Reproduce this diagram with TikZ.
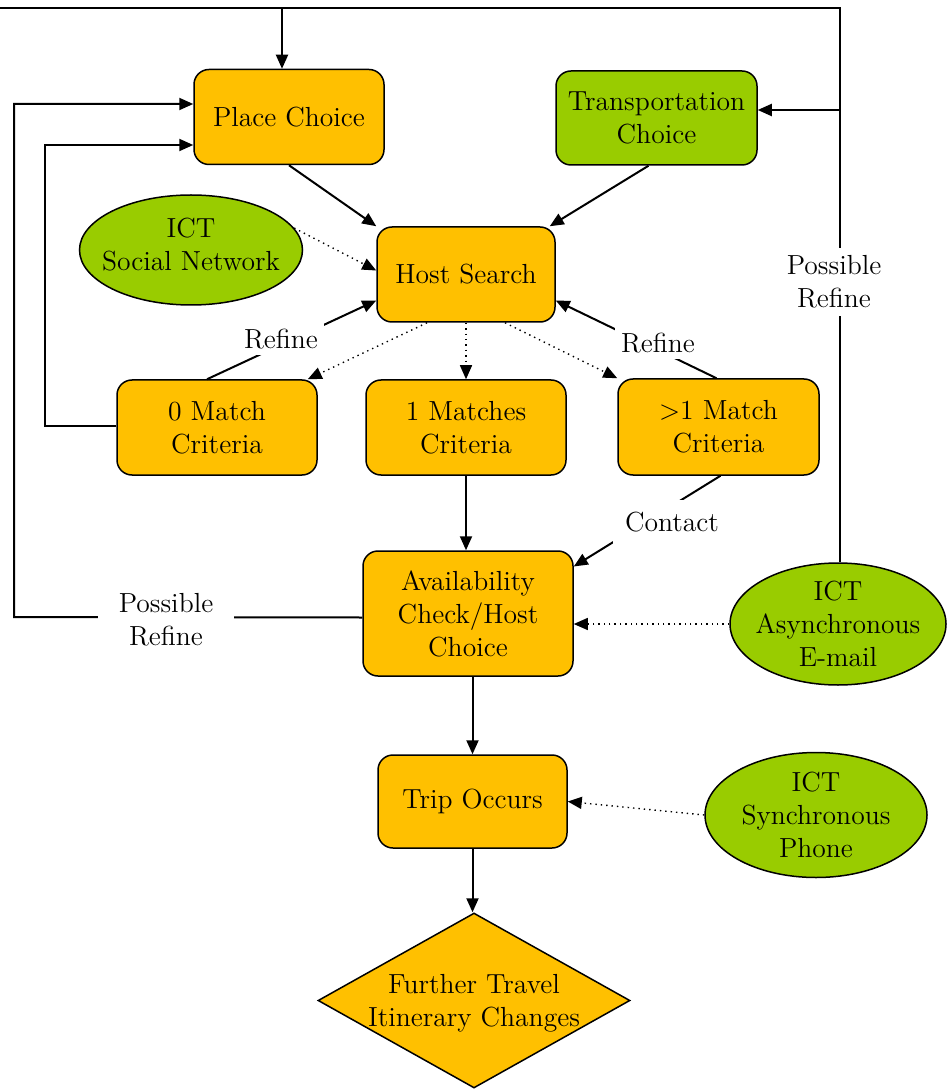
\documentclass[tikz,border=0pt]{standalone}
\usepackage{fontspec}
\usetikzlibrary{shapes.geometric,arrows.meta}
\definecolor{orbox}{HTML}{FFC000}
\definecolor{grbox}{HTML}{99CC00}
\tikzset{
  every node/.style={font=\rmfamily\fontsize{13.8}{16.5}\selectfont},
  box/.style={draw, rectangle, rounded corners=7.5pt, line width=0.75pt, fill=orbox, align=center, inner sep=2pt},
  gbox/.style={box, fill=grbox},
  ell/.style={draw, ellipse, line width=0.75pt, fill=grbox, inner sep=0pt},
  dia/.style={draw, diamond, line width=0.75pt, fill=orbox, inner sep=0pt},
  txt/.style={align=center, inner sep=0pt},
  arr/.style={-{Triangle[length=7pt,width=6pt]}, line width=1pt},
  dotarr/.style={-{Triangle[length=7pt,width=6pt]}, line width=0.7pt, dotted},
  lbl/.style={fill=white, align=center, inner sep=3pt},
}
\begin{document}
\begin{tikzpicture}[x=0.5pt,y=-0.5pt]
\useasboundingbox (0,0) rectangle (946,1090);
% nodes
\node[box, minimum width=95pt, minimum height=47.5pt] (pc) at (289,117) {Place Choice};
\node[gbox, minimum width=100.5pt, minimum height=47pt] (tc) at (656.5,118) {Transportation\\Choice};
\node[box, minimum width=89pt, minimum height=47.5pt] (hs) at (466,274.5) {Host Search};
\node[ell, minimum width=111.5pt, minimum height=55pt, label={[txt, yshift=2.5pt]center:ICT\\Social Network}] (sn) at (191,250) {};
\node[box, minimum width=100pt, minimum height=47.5pt] (zm) at (217,427.5) {0 Match\\Criteria};
\node[box, minimum width=100pt, minimum height=47.5pt] (om) at (466,427.5) {1 Matches\\Criteria};
\node[box, minimum width=100.5pt, minimum height=48pt] (gt) at (718.5,427) {>1 Match\\Criteria};
\node[box, minimum width=105pt, minimum height=62.5pt] (av) at (468,613.5) {Availability\\Check/Host\\Choice};
\node[ell, minimum width=108pt, minimum height=61pt, label={[txt]center:ICT\\Asynchronous\\E-mail}] (ae) at (838,624) {};
\node[box, minimum width=94.5pt, minimum height=46.5pt] (tr) at (472.5,801.5) {Trip Occurs};
\node[ell, minimum width=111pt, minimum height=62.5pt, label={[txt]center:ICT\\Synchronous\\Phone}] (sp) at (816,815) {};
\node[dia, minimum width=156pt, minimum height=87.5pt, label={[txt, yshift=-1.5pt]center:Further Travel\\Itinerary Changes}] (fur) at (474,1000.5) {};
% connectors
\draw[arr] (pc.south) -- (hs.north west);
\draw[arr] ([xshift=-4pt]tc.south) -- ([xshift=-3pt]hs.north east);
\draw[dotarr] (sn.12) -- ([yshift=2pt]hs.west);
\draw[dotarr] ([xshift=-19.5pt]hs.south) -- ([xshift=-5pt]zm.north east);
\draw[dotarr] (hs.south) -- (om.north);
\draw[dotarr] ([xshift=19.5pt]hs.south) -- (gt.north west);
\draw[arr] ([xshift=-5pt]zm.north) -- ([yshift=-13pt]hs.west);
\draw[arr] ([xshift=-1pt]gt.north) -- ([yshift=-13pt]hs.east);
\draw[arr] ([xshift=1pt]gt.south) -- ([yshift=23.5pt]av.east);
\draw[arr] (om.south) -- (om.south |- av.north);
\draw[dotarr] (ae.west) -- (ae.west -| av.east);
\draw[arr] (av.south -| tr.north) -- (tr.north);
\draw[dotarr] (sp.west) -- (tr.east);
\draw[arr] (tr.south) -- (tr.south |- fur.north);
% loops
\draw[arr] ([xshift=1pt]ae.north) |- (0,8) -| ([xshift=-3.5pt]pc.north);
\draw[arr] ([xshift=1pt]ae.north |- 0,110) -- (tc.east |- 0,110);
\draw[arr] ([yshift=-2pt]av.west) -- (14,617) |- ([yshift=6.5pt]pc.west);
\draw[arr] ([yshift=1pt]zm.west) -- (45,425.5) |- ([yshift=-14pt]pc.west);
% labels
\node[lbl, inner ysep=4pt] (pr1) at (834,282) {Possible\\Refine};
\node[lbl, inner xsep=10.5pt] (pr2) at (166,620) {Possible\\Refine};
\node[lbl] (rf1) at (281,339) {Refine};
\node[lbl] (rf2) at (658,343) {Refine};
\node[lbl, inner sep=6pt] (ct) at (672,522) {Contact};
\end{tikzpicture}
\end{document}
